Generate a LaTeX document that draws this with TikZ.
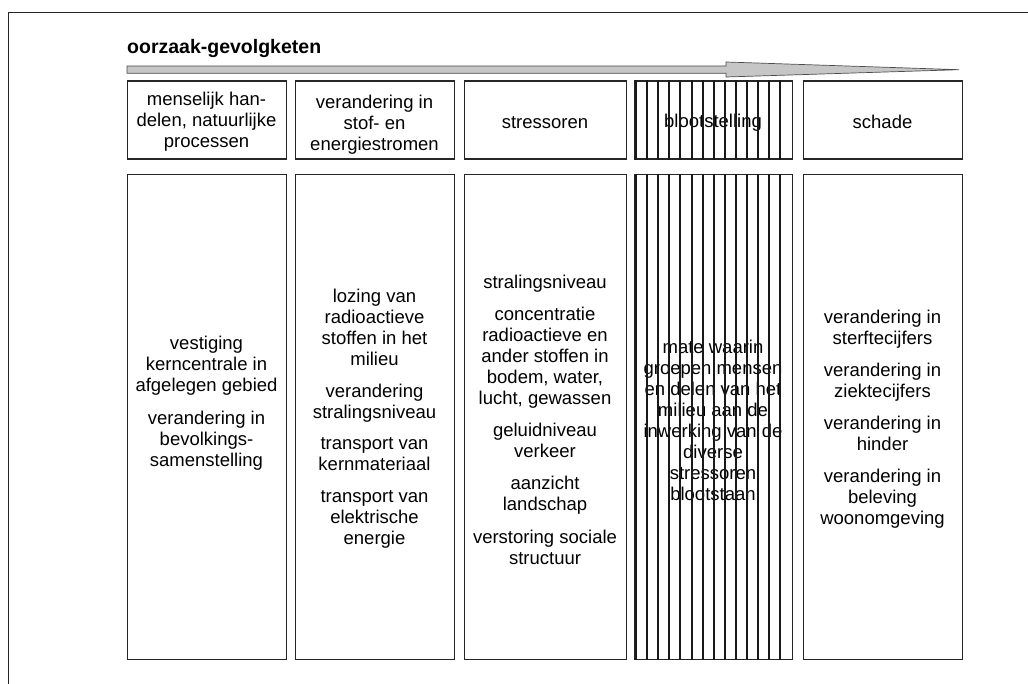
\documentclass[tikz,border=0pt]{standalone}
\usepackage{fontspec}
\setmainfont{Liberation Sans}
\begin{document}
\begin{tikzpicture}[x=1pt,y=-1pt,
  frameline/.style={line width=1.4pt, draw=black!85},
  box/.style={draw=black!85, line width=1.4pt, inner sep=0pt, anchor=north west},
  txt/.style={align=center, inner sep=0pt, font=\fontsize{18.5}{21}\selectfont},
  hatch/.style={line width=2pt, draw=black!90},
  chain/.style={fill=gray!45, draw=gray!60!black, line width=0.7pt}]
\useasboundingbox (0,0) rectangle (1028,684);
\fill[white] (0,0) rectangle (1028,684);

% open outer frame
\coordinate (fa) at (8.5,684);
\coordinate (fb) at (8.5,12.5);
\coordinate (fc) at (1028,12.5);
\draw[frameline] (fa) -- (fb) -- (fc);

% title and the long cause-effect arrow
\node[anchor=base west, inner sep=0pt, font=\fontsize{19.5}{22}\selectfont\bfseries] (title) at (127,54) {oorzaak-gevolgketen};
\draw[chain] (127,66) -- (726,66) -- (726,62) -- (959,69.7) -- (726,77) -- (726,73.3) -- (127,73.3) -- cycle;

% header row
\node[box, minimum width=159pt, minimum height=78pt] (h1) at (127,80.5) {};
\node[box, minimum width=159pt, minimum height=78pt] (h2) at (295,80.5) {};
\node[box, minimum width=162pt, minimum height=78pt] (h3) at (464,80.5) {};
\node[box, minimum width=158pt, minimum height=78pt] (h4) at (634,80.5) {};
\node[box, minimum width=159pt, minimum height=78pt] (h5) at (803,80.5) {};

% body row
\node[box, minimum width=159pt, minimum height=485pt] (b1) at (127,174) {};
\node[box, minimum width=159pt, minimum height=485pt] (b2) at (295,174) {};
\node[box, minimum width=162pt, minimum height=485pt] (b3) at (464,174) {};
\node[box, minimum width=158pt, minimum height=485pt] (b4) at (634,174) {};
\node[box, minimum width=159pt, minimum height=485pt] (b5) at (803,174) {};

% header texts
\node[txt] (t1) at (206.5,121.5) {menselijk han-\\delen, natuurlijke\\processen};
\node[txt] (t2) at (374.5,125) {verandering in\\stof- en\\energiestromen};
\node[txt] (t3) at (545,122.5) {stressoren};
\node[txt] (t4) at (713,122.5) {blootstelling};
\node[txt] (t5) at (882.5,122) {schade};

% body texts
\node[txt] (c1) at (206.5,403) {vestiging\\kerncentrale in\\afgelegen gebied\\[12pt]verandering in\\bevolkings-\\samenstelling};
\node[txt] (c2) at (374.5,419) {lozing van\\radioactieve\\stoffen in het\\milieu\\[11pt]verandering\\stralingsniveau\\[10pt]transport van\\kernmateriaal\\[11pt]transport van\\elektrische\\energie};
\node[txt] (c3) at (545,420) {stralingsniveau\\[10.5pt]concentratie\\radioactieve en\\ander stoffen in\\bodem, water,\\lucht, gewassen\\[11pt]geluidniveau\\verkeer\\[11pt]aanzicht\\landschap\\[12pt]verstoring sociale\\structuur};
\node[txt] (c4) at (713,420.5) {mate waarin\\groepen mensen\\en delen van het\\milieu aan de\\inwerking van de\\diverse\\stressoren\\blootstaan};
\node[txt] (c5) at (882.5,419) {verandering in\\sterftecijfers\\[11pt]verandering in\\ziektecijfers\\[11pt]verandering in\\hinder\\[11pt]verandering in\\beleving\\woonomgeving};

% vertical hatching over the exposure column
\foreach \i in {0,...,13} {
  \draw[hatch] ([xshift=2pt+11.1pt*\i]h4.north west) -- ([xshift=2pt+11.1pt*\i]h4.south west);
  \draw[hatch] ([xshift=2pt+11.1pt*\i]b4.north west) -- ([xshift=2pt+11.1pt*\i]b4.south west);
}
\end{tikzpicture}
\end{document}
